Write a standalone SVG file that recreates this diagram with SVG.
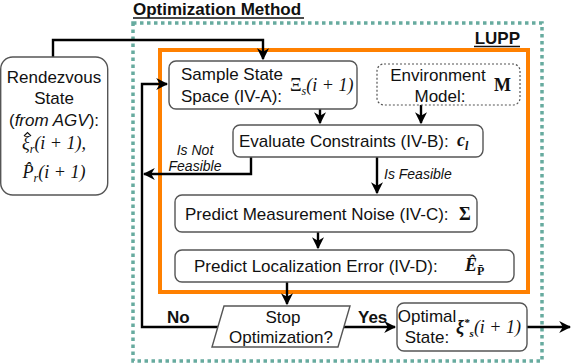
<svg xmlns="http://www.w3.org/2000/svg" width="572" height="364" viewBox="0 0 572 364">
<defs>
<style>
.t{font-family:"Liberation Sans",Arial,sans-serif;font-size:17px;fill:#111}
.b{font-weight:bold}
.i{font-style:italic;font-size:14px}
.m{font-family:"Liberation Serif","Times New Roman",serif;font-style:italic;font-size:18px;fill:#111}
.mb{font-family:"Liberation Serif","Times New Roman",serif;font-weight:bold;font-size:18px;fill:#111}
.box{fill:#fff;stroke:#555;stroke-width:1.4}
.c{fill:none;stroke:#000;stroke-width:2.4}
</style>
<marker id="a" viewBox="0 0 10 10" refX="9" refY="5" markerWidth="5" markerHeight="5" orient="auto" markerUnits="strokeWidth">
<path d="M0,0 L10,5 L0,10 L3,5 z" fill="#000"/>
</marker>
</defs>
<rect width="572" height="364" fill="#fff"/>
<g id="optimization-method">
<rect x="133" y="23" width="409" height="338" fill="none" stroke="#67ab9f" stroke-width="3.5" stroke-dasharray="3.5 3.5"/>
<text class="t b" x="133" y="15">Optimization Method</text>
<line x1="133" y1="18" x2="304" y2="18" stroke="#111" stroke-width="1.5"/>
</g>
<g id="lupp">
<rect x="160" y="50" width="368" height="242" fill="none" stroke="#ff8000" stroke-width="4"/>
<text class="t b" x="520" y="44" text-anchor="end">LUPP</text>
<line x1="474" y1="46.5" x2="520" y2="46.5" stroke="#111" stroke-width="1.5"/>
</g>
<g id="connectors">
<path class="c" d="M53,57 V40 H263 V59" marker-end="url(#a)"/>
<path class="c" d="M320,109 V123" marker-end="url(#a)"/>
<path class="c" d="M421,105 V123" marker-end="url(#a)"/>
<path class="c" d="M251,157 V174 H144" marker-end="url(#a)"/>
<path class="c" d="M377,157 V193" marker-end="url(#a)"/>
<path class="c" d="M318,232 V248" marker-end="url(#a)"/>
<path class="c" d="M287,282 V304" marker-end="url(#a)"/>
<path class="c" d="M218,327 H142 V84 H167" marker-end="url(#a)"/>
<path class="c" d="M344,327 H395" marker-end="url(#a)"/>
<path class="c" d="M527,327 H570" marker-end="url(#a)"/>
<text class="t i" x="195" y="155" text-anchor="middle">Is Not</text>
<text class="t i" x="195" y="171" text-anchor="middle">Feasible</text>
<text class="t i" x="384" y="179">Is Feasible</text>
<text class="t b" x="167" y="323">No</text>
<text class="t b" x="358" y="323">Yes</text>
</g>
<g id="rendezvous-state">
<rect class="box" x="0.7" y="57" width="107" height="138" rx="12"/>
<text class="t" x="54" y="83" text-anchor="middle">Rendezvous</text>
<text class="t" x="54" y="104" text-anchor="middle">State</text>
<text class="t" x="54" y="126" text-anchor="middle">(<tspan font-style="italic">from AGV</tspan>):</text>
<path d="M24,136 L27.5,132.5 L31,136" fill="none" stroke="#111" stroke-width="1.2"/>
<text class="m" x="54" y="149" text-anchor="middle">ξ<tspan font-size="12" dy="4">r</tspan><tspan dy="-4">(i + 1),</tspan></text>
<text class="m" x="54" y="178" text-anchor="middle">P̂<tspan font-size="12" dy="4">r</tspan><tspan dy="-4">(i + 1)</tspan></text>
</g>
<g id="sample-state-space">
<rect class="box" x="169" y="61" width="188" height="48" rx="7"/>
<text class="t" x="232" y="80" text-anchor="middle">Sample State</text>
<text class="t" x="181" y="102">Space (IV-A):</text>
<text class="m" x="290" y="91"><tspan font-style="normal">Ξ</tspan><tspan font-size="12" dy="4">s</tspan><tspan dy="-4">(i + 1)</tspan></text>
</g>
<g id="environment-model">
<rect x="377" y="64" width="143" height="41" rx="7" fill="#fff" stroke="#555" stroke-width="1.2" stroke-dasharray="2 2"/>
<text class="t" x="438" y="81" text-anchor="middle">Environment</text>
<text class="t" x="440" y="102" text-anchor="middle">Model:</text>
<text class="mb" x="494" y="91">M</text>
</g>
<g id="evaluate-constraints">
<rect class="box" x="233" y="125" width="250" height="32" rx="7"/>
<text class="t" x="239" y="147">Evaluate Constraints (IV-B):</text>
<text class="m" x="457" y="146" font-weight="bold">c<tspan font-size="12" dy="4">l</tspan></text>
</g>
<g id="predict-measurement-noise">
<rect class="box" x="175" y="195" width="302" height="37" rx="7"/>
<text class="t" x="185" y="220">Predict Measurement Noise (IV-C):</text>
<text class="mb" x="459" y="220">Σ</text>
</g>
<g id="predict-localization-error">
<rect class="box" x="175" y="250" width="339" height="32" rx="7"/>
<text class="t" x="194" y="272">Predict Localization Error (IV-D):</text>
<text class="m" x="465" y="271" font-weight="bold">Ê<tspan font-size="12" dy="4" font-style="normal">P̄</tspan></text>
</g>
<g id="stop-optimization">
<path d="M224,306 H350 L338,347 H212 Z" fill="#fff" stroke="#555" stroke-width="1.4"/>
<text class="t" x="283" y="323" text-anchor="middle">Stop</text>
<text class="t" x="281" y="343" text-anchor="middle">Optimization?</text>
</g>
<g id="optimal-state">
<rect class="box" x="397" y="303" width="130" height="48" rx="7"/>
<text class="t" x="427" y="322" text-anchor="middle">Optimal</text>
<text class="t" x="427" y="343" text-anchor="middle">State:</text>
<text class="m" x="456" y="333" font-weight="bold">ξ<tspan font-size="11" dy="-7">*</tspan><tspan font-size="11" dy="11">s</tspan><tspan dy="-4" font-weight="normal">(i + 1)</tspan></text>
</g>
</svg>
